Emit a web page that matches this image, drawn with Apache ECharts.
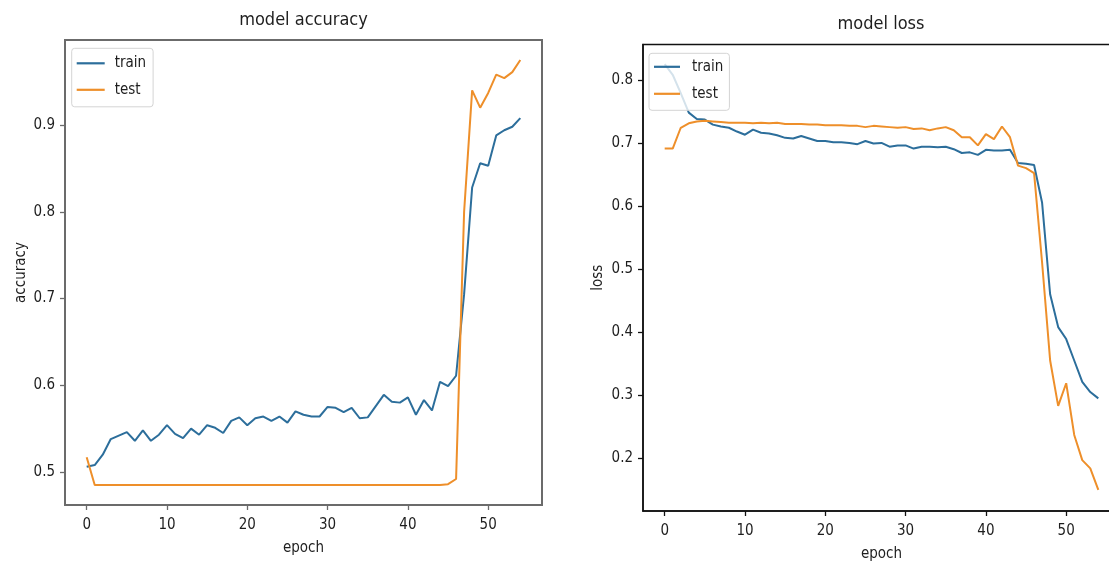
<!DOCTYPE html>
<html>
<head>
<meta charset="utf-8">
<script src="https://cdn.jsdelivr.net/npm/echarts@6/dist/echarts.min.js"></script>
<style>
html,body{margin:0;padding:0;background:#fff;}
#chart{width:1109px;height:567px;}
</style>
</head>
<body>
<div id="chart"></div>
<script>
// ---- data ----
const seriesNames = ['train', 'test'];
const xTicks = [0, 10, 20, 30, 40, 50];
const accYTicks = [0.5, 0.6, 0.7, 0.8, 0.9];
const lossYTicks = [0.2, 0.3, 0.4, 0.5, 0.6, 0.7, 0.8];

const accTrain = [0.506,0.508,0.520,0.538,0.542,0.546,0.536,0.548,0.536,0.543,
  0.554,0.544,0.539,0.550,0.543,0.554,0.551,0.545,0.559,0.563,
  0.554,0.562,0.564,0.559,0.564,0.557,0.570,0.566,0.564,0.564,
  0.575,0.574,0.569,0.574,0.562,0.563,0.576,0.589,0.581,0.580,
  0.586,0.566,0.583,0.571,0.604,0.599,0.611,0.705,0.828,0.856,
  0.853,0.888,0.894,0.898,0.908];
const accTest = [0.517,0.485,0.485,0.485,0.485,0.485,0.485,0.485,0.485,0.485,
  0.485,0.485,0.485,0.485,0.485,0.485,0.485,0.485,0.485,0.485,
  0.485,0.485,0.485,0.485,0.485,0.485,0.485,0.485,0.485,0.485,
  0.485,0.485,0.485,0.485,0.485,0.485,0.485,0.485,0.485,0.485,
  0.485,0.485,0.485,0.485,0.485,0.486,0.492,0.800,0.940,0.920,
  0.937,0.958,0.954,0.961,0.975];
const lossTrain = [0.825,0.808,0.779,0.748,0.738,0.737,0.729,0.726,0.724,0.718,
  0.713,0.721,0.716,0.715,0.712,0.708,0.707,0.711,0.707,0.703,
  0.703,0.701,0.701,0.700,0.698,0.703,0.699,0.700,0.694,0.696,
  0.696,0.691,0.694,0.694,0.693,0.694,0.690,0.684,0.685,0.681,
  0.689,0.688,0.688,0.689,0.668,0.667,0.665,0.605,0.460,0.408,
  0.389,0.355,0.321,0.305,0.295];
const lossTest = [0.691,0.691,0.724,0.731,0.734,0.735,0.734,0.733,0.732,0.732,
  0.732,0.731,0.732,0.731,0.732,0.730,0.730,0.730,0.729,0.729,
  0.728,0.728,0.728,0.727,0.727,0.725,0.727,0.726,0.725,0.724,
  0.725,0.722,0.723,0.720,0.723,0.725,0.720,0.709,0.709,0.696,
  0.714,0.706,0.726,0.709,0.664,0.660,0.652,0.510,0.355,0.283,
  0.319,0.237,0.197,0.184,0.150];

// ---- chart ----
const FONT = "'DejaVu Sans Condensed', 'DejaVu Sans', sans-serif";
const C_TRAIN = '#2c6e9b';
const C_TEST = '#ee8f2a';
const TXT = '#1e1e1e';
const toPairs = arr => arr.map((v, i) => [i, v]);

function xAxisCfg(gi, min, max, col, lw) {
  return {
    gridIndex: gi, type: 'value', min: min, max: max,
    name: 'epoch', nameLocation: 'middle', nameGap: 36,
    nameTextStyle: {fontFamily: FONT, fontSize: 15, color: TXT},
    splitLine: {show: false},
    axisLine: {show: true, onZero: false, lineStyle: {color: col, width: lw}},
    axisTick: {show: true, length: 5, customValues: xTicks, lineStyle: {color: col, width: 1.3}},
    axisLabel: {customValues: xTicks, fontFamily: FONT, fontSize: 15, color: TXT, margin: 13}
  };
}
function yAxisCfg(gi, min, max, ticks, nm, gap, col, lw) {
  return {
    gridIndex: gi, type: 'value', min: min, max: max,
    name: nm, nameLocation: 'middle', nameGap: gap, nameRotate: 90,
    nameTextStyle: {fontFamily: FONT, fontSize: 15, color: TXT},
    splitLine: {show: false},
    axisLine: {show: true, onZero: false, lineStyle: {color: col, width: lw}},
    axisTick: {show: true, length: 5, customValues: ticks, lineStyle: {color: col, width: 1.3}},
    axisLabel: {customValues: ticks, fontFamily: FONT, fontSize: 15, color: TXT, margin: 10,
      formatter: v => v.toFixed(1)}
  };
}
function lineSeries(name, data, color, xi) {
  return {
    name: name, type: 'line', data: toPairs(data), xAxisIndex: xi, yAxisIndex: xi,
    showSymbol: false, symbol: 'none', smooth: false,
    lineStyle: {color: color, width: 2}, itemStyle: {color: color},
    animation: false
  };
}

const chart = echarts.init(document.getElementById('chart'), null, {renderer: 'canvas'});
chart.setOption({
  backgroundColor: '#fff',
  animation: false,
  title: [
    {text: 'model accuracy', left: 303.5, top: 11, textAlign: 'center', padding: 0,
      textStyle: {fontFamily: FONT, fontSize: 18, fontWeight: 'normal', color: TXT}},
    {text: 'model loss', left: 881, top: 15, textAlign: 'center', padding: 0,
      textStyle: {fontFamily: FONT, fontSize: 18, fontWeight: 'normal', color: TXT}}
  ],
  grid: [
    {left: 65, top: 40, width: 477, height: 465, show: true, borderColor: '#6b6b6b', borderWidth: 2,
      backgroundColor: 'transparent', containLabel: false, outerBoundsMode: 'none'},
    {left: 643, top: 44.5, width: 477, height: 466.5, show: true, borderColor: '#111', borderWidth: 1.5,
      backgroundColor: 'transparent', containLabel: false, outerBoundsMode: 'none'}
  ],
  legend: [
    {data: seriesNames, left: 71.7, top: 48.3, orient: 'vertical', icon: 'rect',
      itemWidth: 28, itemHeight: 2.2, itemGap: 11.5,
      textStyle: {fontFamily: FONT, fontSize: 15, color: TXT, padding: [0, 0, 0, 5]},
      backgroundColor: '#fff', borderColor: '#d4d4d4', borderWidth: 1, borderRadius: 3,
      padding: [7.5, 7, 9.5, 5], selectedMode: false},
    {data: seriesNames, left: 649, top: 53.3, orient: 'vertical', icon: 'rect',
      itemWidth: 26, itemHeight: 2.2, itemGap: 12,
      textStyle: {fontFamily: FONT, fontSize: 15, color: TXT, padding: [0, 0, 0, 7]},
      backgroundColor: 'rgba(255,255,255,0.8)', borderColor: '#d4d4d4', borderWidth: 1, borderRadius: 3,
      padding: [6, 6, 9, 5], selectedMode: false}
  ],
  xAxis: [
    xAxisCfg(0, -2.7, 56.7, '#6b6b6b', 2),
    xAxisCfg(1, -2.7, 56.7, '#111', 1.5)
  ],
  yAxis: [
    yAxisCfg(0, 0.462, 0.998, accYTicks, 'accuracy', 36, '#6b6b6b', 2),
    yAxisCfg(1, 0.1164, 0.856, lossYTicks, 'loss', 37, '#111', 1.5)
  ],
  series: [
    lineSeries('train', accTrain, C_TRAIN, 0),
    lineSeries('test', accTest, C_TEST, 0),
    lineSeries('train', lossTrain, C_TRAIN, 1),
    lineSeries('test', lossTest, C_TEST, 1)
  ]
});
</script>
</body>
</html>
